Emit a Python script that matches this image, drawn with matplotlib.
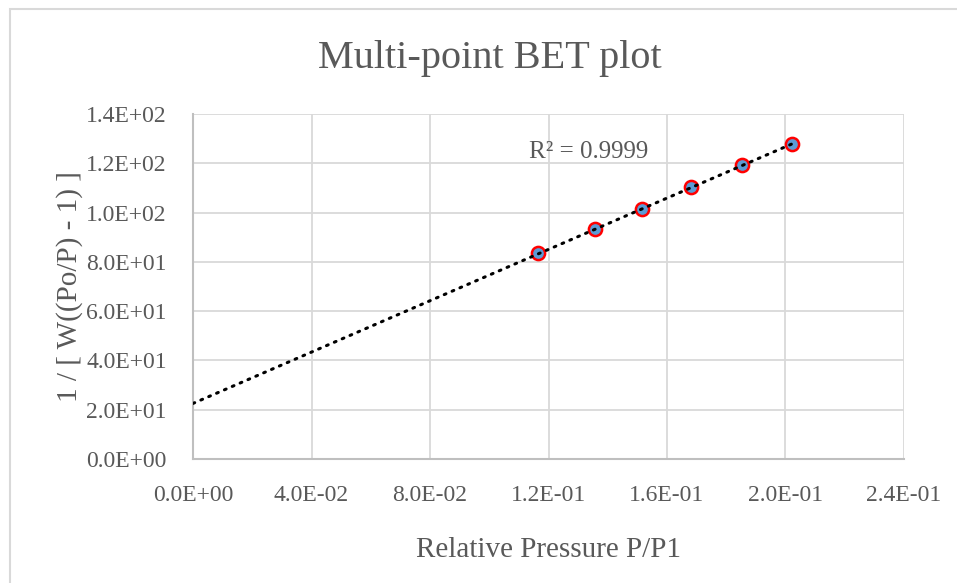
import numpy as np
import matplotlib.pyplot as plt
from matplotlib.patches import Rectangle

# BET data
rel_pressure = [0.1166, 0.1358, 0.1517, 0.1682, 0.1854, 0.2022]
bet_value = [83.4, 93.2, 101.3, 110.3, 119.2, 127.8]

x_ticks = [0.0, 0.04, 0.08, 0.12, 0.16, 0.20, 0.24]
x_tick_labels = ["0.0E+00", "4.0E-02", "8.0E-02", "1.2E-01", "1.6E-01", "2.0E-01", "2.4E-01"]
y_ticks = [0, 20, 40, 60, 80, 100, 120, 140]
y_tick_labels = ["0.0E+00", "2.0E+01", "4.0E+01", "6.0E+01", "8.0E+01", "1.0E+02", "1.2E+02", "1.4E+02"]

plt.rcParams['font.family'] = ['Liberation Serif', 'DejaVu Serif']
text_gray = '#595959'

fig = plt.figure(figsize=(9.57, 5.83), dpi=100)
ax = fig.add_axes([0.2017, 0.2127, 0.7429, 0.5918])

# linear trendline, forecast back to zero
slope, intercept = np.polyfit(rel_pressure, bet_value, 1)
fit_x = np.array([0.0, max(rel_pressure)])
fit_y = slope * fit_x + intercept
pred = slope * np.array(rel_pressure) + intercept
ss_res = np.sum((np.array(bet_value) - pred) ** 2)
ss_tot = np.sum((np.array(bet_value) - np.mean(bet_value)) ** 2)
r2 = 1 - ss_res / ss_tot

ax.plot(rel_pressure, bet_value, 'o', markersize=9.5, markerfacecolor='#5B9BD5',
        markeredgecolor='#FF0000', markeredgewidth=1.8, zorder=3)
ax.plot(fit_x, fit_y, color='black', lw=2.2, linestyle=(0, (0.6, 2.2)),
        dash_capstyle='round', zorder=4)

ax.text(0.1135, 124.5, "R² = %.4f" % r2, fontsize=18, color=text_gray,
        ha='left', va='center')

ax.set_xlim(0, 0.24)
ax.set_ylim(0, 140)
ax.set_xticks(x_ticks)
ax.set_xticklabels(x_tick_labels)
ax.set_yticks(y_ticks)
ax.set_yticklabels(y_tick_labels)
ax.tick_params(length=0, labelsize=17, colors=text_gray)
ax.tick_params(axis='x', pad=19)
ax.tick_params(axis='y', pad=19)
ax.grid(True, color='#D9D9D9', lw=1.3)
ax.set_axisbelow(True)
for side in ['top', 'right']:
    ax.spines[side].set_visible(False)
for side in ['left', 'bottom']:
    ax.spines[side].set_color('#BFBFBF')
    ax.spines[side].set_linewidth(1.5)

ax.set_xlabel("Relative Pressure P/P1", fontsize=21, color=text_gray, labelpad=22)
ax.set_ylabel("1 / [ W((Po/P) - 1) ]", fontsize=21, color=text_gray, labelpad=2)
fig.text(0.512, 0.9005, "Multi-point BET plot", fontsize=29, color=text_gray,
         ha='center', va='center')

# outer chart frame
fig.patches.append(Rectangle((0.0105, -0.1), 1.2, 1.0846, transform=fig.transFigure,
                             fill=False, edgecolor='#D9D9D9', lw=1.5))

fig.savefig('out.png', dpi=100)
